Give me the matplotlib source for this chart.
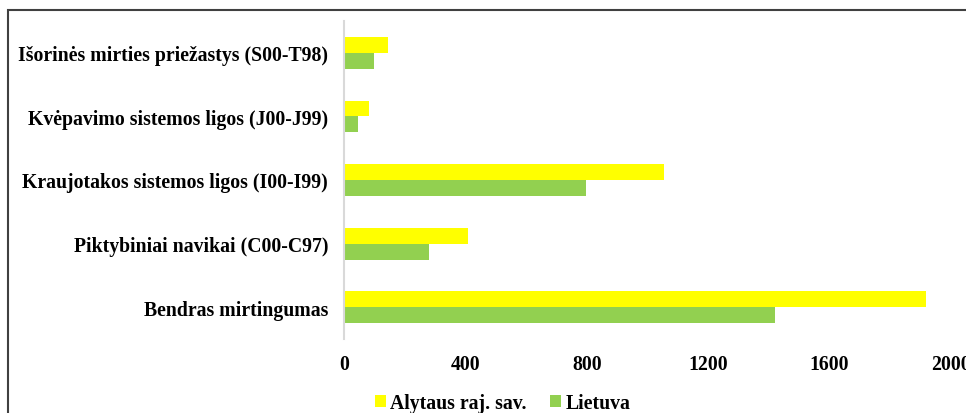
import matplotlib
matplotlib.use("Agg")
import matplotlib.pyplot as plt
from matplotlib.patches import Rectangle
import numpy as np

categories = ["Bendras mirtingumas", "Piktybiniai navikai (C00-C97)",
              "Kraujotakos sistemos ligos (I00-I99)", "Kvėpavimo sistemos ligos (J00-J99)",
              "Išorinės mirties priežastys (S00-T98)"]
alytus = [1918, 407, 1056, 82, 145]
lietuva = [1421, 281, 796, 46, 99]
series_names = ["Alytaus raj. sav.", "Lietuva"]
xticks = [0, 400, 800, 1200, 1600, 2000]

plt.rcParams['font.family'] = ['Liberation Serif', 'DejaVu Serif']
plt.rcParams['font.weight'] = 'bold'

W, H = 966, 414
fig = plt.figure(figsize=(W/100, H/100), dpi=100)
ax = fig.add_axes([344/W, 1-340/H, (951-344)/W, (340-22)/H])

y = np.arange(len(categories))
h = 0.25
ax.barh(y + h/2, alytus, height=h, color="#FFFF00", label=series_names[0])
ax.barh(y - h/2, lietuva, height=h, color="#92D050", label=series_names[1])

fs = 14.2
ax.set_xlim(0, 2000)
ax.set_ylim(-0.5, len(categories) - 0.5)
ax.set_xticks(xticks)
ax.set_xticklabels([str(t) for t in xticks], fontsize=fs, fontweight='bold')
ax.set_yticks(y)
ax.set_yticklabels(categories, fontsize=fs, fontweight='bold')
ax.tick_params(axis='x', length=0, pad=11)
ax.tick_params(axis='y', length=0, pad=11.5)
for s in ['top', 'right', 'bottom']:
    ax.spines[s].set_visible(False)
ax.spines['left'].set_color('#d9d9d9')
ax.spines['left'].set_linewidth(1.5)

leg = fig.legend(loc='center', bbox_to_anchor=(502.5/W, 1-404/H), ncol=2, frameon=False,
                 prop={'family': 'Liberation Serif', 'weight': 'bold', 'size': fs},
                 handlelength=0.55, handleheight=0.55, handletextpad=0.25, columnspacing=1.15)

fig.patches.append(Rectangle((7.5/W, -0.1), 1.2, 1 - 10.5/H + 0.1, transform=fig.transFigure,
                             fill=False, edgecolor='#404040', linewidth=1.5, clip_on=False))

fig.savefig("out.png", dpi=100)
